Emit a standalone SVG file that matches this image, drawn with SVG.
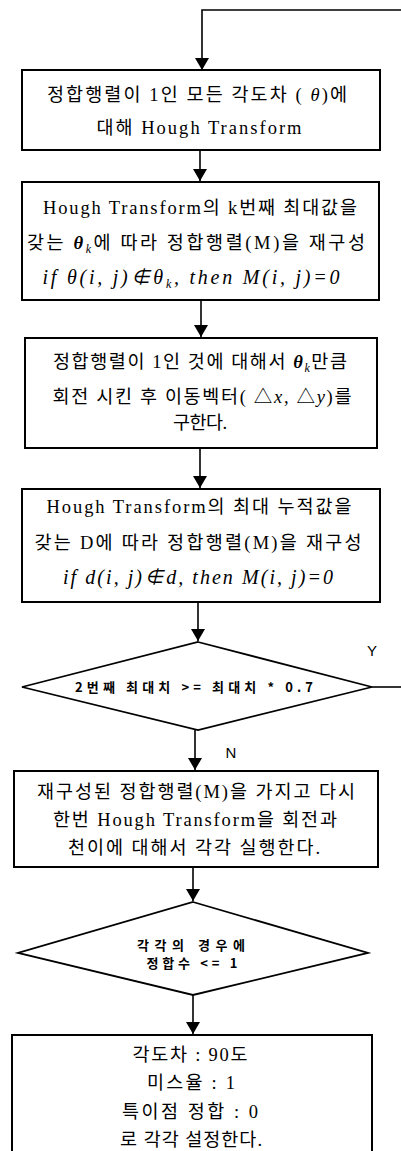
<svg xmlns="http://www.w3.org/2000/svg" width="401" height="1151" viewBox="0 0 401 1151">
<defs>
<style>
.box{fill:#fff;stroke:#000;stroke-width:2}
.dia{fill:#fff;stroke:#000;stroke-width:1.8}
.t{font-family:"Liberation Serif","Noto Sans CJK KR",serif;font-size:18.5px;fill:#000;text-anchor:middle}
.m{font-family:"Liberation Serif","Noto Sans CJK KR",serif;font-size:20px;font-style:italic;fill:#000;text-anchor:middle}
.d{font-family:"Noto Sans CJK KR","Liberation Sans",sans-serif;font-size:13px;font-weight:bold;fill:#000;text-anchor:middle}
.lab{font-family:"Liberation Sans",Arial,sans-serif;font-size:15px;fill:#000;text-anchor:middle}
.c{fill:none;stroke:#000;stroke-width:1.6}
.sub{font-size:12px}
</style>
<marker id="ah" viewBox="0 0 12 14" refX="12" refY="7" markerWidth="12" markerHeight="14" markerUnits="userSpaceOnUse" orient="auto">
<path d="M0,0 L12,7 L0,14 Z" fill="#000"/>
</marker>
</defs>

<g id="connectors">
<path class="c" d="M401,10 H202 V70" marker-end="url(#ah)"/>
<path class="c" d="M200,150 V181" marker-end="url(#ah)"/>
<path class="c" d="M201,300 V337" marker-end="url(#ah)"/>
<path class="c" d="M200,448 V488" marker-end="url(#ah)"/>
<path class="c" d="M198,602 V641" marker-end="url(#ah)"/>
<path class="c" d="M372,687 H401"/>
<path class="c" d="M195,730 V770" marker-end="url(#ah)"/>
<path class="c" d="M193,867 V901" marker-end="url(#ah)"/>
<path class="c" d="M193,995 V1034" marker-end="url(#ah)"/>
<text class="lab" x="372" y="656">Y</text>
<text class="lab" x="231" y="758">N</text>
</g>

<g id="node1">
<rect class="box" x="22" y="70" width="358" height="80"/>
<text class="t" x="197" y="101" textLength="300" lengthAdjust="spacing">정합행렬이 1인 모든 각도차 ( <tspan font-style="italic">θ</tspan>)에</text>
<text class="t" x="199" y="134" textLength="205" lengthAdjust="spacing">대해 Hough Transform</text>
</g>

<g id="node2">
<rect class="box" x="22" y="182" width="357" height="118"/>
<text class="t" x="200" y="214" textLength="314" lengthAdjust="spacing">Hough Transform의 k번째 최대값을</text>
<text class="t" x="196" y="249" textLength="338" lengthAdjust="spacing">갖는 <tspan font-style="italic" font-weight="bold">θ</tspan><tspan class="sub" font-style="italic" dy="4">k</tspan><tspan dy="-4">에 따라 정합행렬(M)을 재구성</tspan></text>
<text class="m" x="191" y="284" textLength="297" lengthAdjust="spacing">if  θ(i, j)∉θ<tspan class="sub" dy="4">k</tspan><tspan dy="-4">, then  M(i, j)=0</tspan></text>
</g>

<g id="node3">
<rect class="box" x="25" y="338" width="352" height="110"/>
<text class="t" x="200" y="368" textLength="294" lengthAdjust="spacing">정합행렬이 1인 것에 대해서 <tspan font-style="italic" font-weight="bold">θ</tspan><tspan class="sub" font-style="italic" dy="4">k</tspan><tspan dy="-4">만큼</tspan></text>
<text class="t" x="202" y="403" textLength="299" lengthAdjust="spacing">회전 시킨 후 이동벡터( △<tspan font-style="italic">x</tspan>, △<tspan font-style="italic">y</tspan>)를</text>
<text class="t" x="200" y="429" textLength="54" lengthAdjust="spacing">구한다.</text>
</g>

<g id="node4">
<rect class="box" x="22" y="489" width="358" height="113"/>
<text class="t" x="199" y="513" textLength="305" lengthAdjust="spacing">Hough Transform의 최대 누적값을</text>
<text class="t" x="198" y="549" textLength="327" lengthAdjust="spacing">갖는 D에 따라 정합행렬(M)을 재구성</text>
<text class="m" x="198" y="584" textLength="270" lengthAdjust="spacing">if  d(i, j)∉d, then  M(i, j)=0</text>
</g>

<g id="node5">
<path class="dia" d="M198,642 L372,687 L198,730 L22,687 Z"/>
<text class="d" x="194" y="692" textLength="238" lengthAdjust="spacing">2번째 최대치 &gt;= 최대치 * 0.7</text>
</g>

<g id="node6">
<rect class="box" x="14" y="771" width="364" height="96"/>
<text class="t" x="196" y="798" textLength="318" lengthAdjust="spacing">재구성된 정합행렬(M)을 가지고 다시</text>
<text class="t" x="195" y="826" textLength="284" lengthAdjust="spacing">한번 Hough Transform을 회전과</text>
<text class="t" x="194" y="854" textLength="252" lengthAdjust="spacing">천이에 대해서 각각 실행한다.</text>
</g>

<g id="node7">
<path class="dia" d="M193,902 L368,953 L193,995 L18,953 Z"/>
<text class="d" x="191" y="950" textLength="108" lengthAdjust="spacing">각각의 경우에</text>
<text class="d" x="192" y="968" textLength="91" lengthAdjust="spacing">정합수 &lt;= 1</text>
</g>

<g id="node8">
<rect class="box" x="12" y="1035" width="360" height="130"/>
<text class="t" x="190" y="1061" textLength="115" lengthAdjust="spacing">각도차 : 90도</text>
<text class="t" x="191" y="1089" textLength="88" lengthAdjust="spacing">미스율 : 1</text>
<text class="t" x="190" y="1118" textLength="136" lengthAdjust="spacing">특이점 정합 : 0</text>
<text class="t" x="191" y="1146" textLength="142" lengthAdjust="spacing">로 각각 설정한다.</text>
</g>
</svg>
